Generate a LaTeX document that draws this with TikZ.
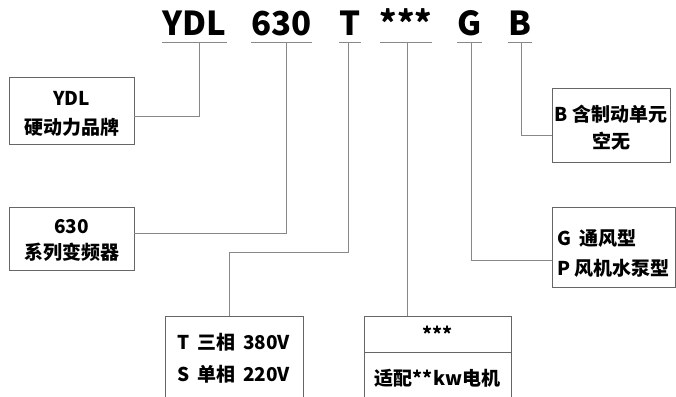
\documentclass[tikz,border=0pt]{standalone}
\usepackage{fontspec}
\setmainfont{Noto Sans CJK SC}
\usetikzlibrary{positioning}
\definecolor{linkgray}{HTML}{888888}
\definecolor{boxgray}{HTML}{666666}

\begin{document}
\begin{tikzpicture}[x=1pt,y=-1pt,
  head/.style={font=\bfseries\fontsize{33}{33}\selectfont, inner xsep=0pt, inner ysep=6pt, text depth=0pt, anchor=base},
  box/.style={draw=boxgray, line width=0.8pt, font=\bfseries\fontsize{19}{29}\selectfont, inner sep=0pt},
  link/.style={draw=linkgray, line width=0.8pt}]
  %tikz  model code
  \useasboundingbox (0,0) rectangle (676,396);
    \foreach \n/\t/\x in {ydl/YDL/194.5, num/630/281.5, ph/T/350, kw/***/406, fan/G/469.5, brk/B/520}{
      \node[head] (h\n) at (\x,36) {\t};
      \draw[link] (h\n.south west) -- (h\n.south east);
    }
    \node[box, align=center, minimum width=125pt, minimum height=67pt] (ydlbox) at (71.5,110.5) {\rule{0pt}{20pt}YDL\\硬动力品牌};
    \node[box, align=center, minimum width=125pt, minimum height=63pt] (numbox) at (71.5,238.5) {\rule{0pt}{18pt}630\\[-3pt]系列变频器};
    \node[box, align=left, minimum width=138pt, minimum height=84pt] (phbox) at (234,358) {T\, 三相\, 380V\\[3pt]S\, 单相\, 220V};
    \node[box, align=center, minimum width=147pt, minimum height=36pt] (starbox) at (437.5,334) {***};
    \node[box, align=center, minimum width=147pt, minimum height=50pt, anchor=north] (kwbox) at (starbox.south) {适配**kw电机};
    \node[box, align=left, minimum width=123pt, minimum height=80pt] (fanbox) at (613.5,247) {\rule{0pt}{28pt}G\ \ 通风型\\[1pt]P 风机水泵型};
    \node[box, align=center, minimum width=118pt, minimum height=74pt] (brkbox) at (611,125) {\rule{0pt}{22pt}B 含制动单元\\[-2pt]空无};
    \coordinate (phbend) at (229,252);
    \draw[link] ([xshift=4.5pt]hydl.south) |- ([yshift=-5.5pt]ydlbox.east);
    \draw[link] ([xshift=4.5pt]hnum.south) |- ([yshift=5.5pt]numbox.east);
    \draw[link] ([xshift=-2pt]hph.south) |- (phbend) -- (phbend |- phbox.north);
    \draw[link] ([xshift=1pt]hkw.south) coordinate (kwtop) -- (kwtop |- starbox.north);
    \draw[link] ([xshift=1.5pt]hfan.south) |- ([yshift=-13pt]fanbox.west);
    \draw[link] ([xshift=1pt]hbrk.south) |- ([yshift=-10pt]brkbox.west);
  \end{tikzpicture}
\end{document}
